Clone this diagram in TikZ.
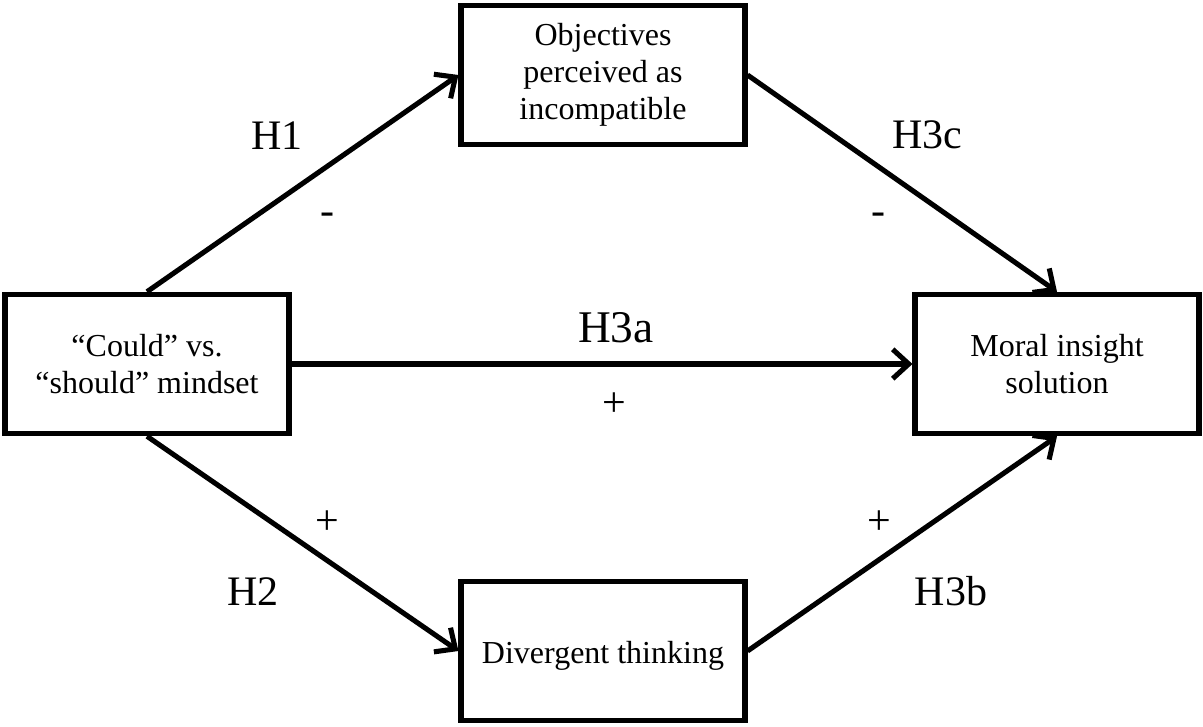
\documentclass[tikz,border=0pt]{standalone}
\usepackage{fontspec}
\setmainfont{Liberation Serif}
\usetikzlibrary{arrows.meta}

\begin{document}
\begin{tikzpicture}[x=0.75pt,y=-0.75pt,
        factor/.style={draw,line width=3.8pt,minimum width=213pt,minimum height=104.6pt,
            inner sep=0pt,align=center,font=\fontsize{24}{27.75}\selectfont},
        link/.style={line width=3.8pt,-{Straight Barb[length=12pt,width=22pt]}},
        hyp/.style={anchor=base,inner sep=0pt,font=\fontsize{31.5}{36}\selectfont}]
        \useasboundingbox (0,0) rectangle (1203,727);
        \node[factor] (mindset) at (147,364) {“Could” vs.\\“should” mindset};
        \node[factor] (incomp) at (603,75) {Objectives\\perceived as\\incompatible};
        \node[factor] (insight) at (1057,364) {Moral insight\\solution};
        \node[factor,text height=23pt,text depth=5pt] (diverg) at (603,651) {Divergent thinking};
        \draw[link] (mindset.north) -- (incomp.west);
        \draw[link] (incomp.east) -- (insight.north);
        \draw[link] (mindset.east) -- (insight.west);
        \draw[link] (mindset.south) -- (diverg.west);
        \draw[link] (diverg.east) -- (insight.south);
        \node[hyp] (h1) at (277,150) {H1};
        \node[hyp] (h1s) at (327,225) {-};
        \node[hyp] (h3c) at (927,149) {H3c};
        \node[hyp] (h3cs) at (878,225) {-};
        \node[hyp,font=\fontsize{34}{38}\selectfont] (h3a) at (616,342) {H3a};
        \node[hyp] (h3as) at (614,416) {+};
        \node[hyp] (h2) at (253,605) {H2};
        \node[hyp] (h2s) at (327,534) {+};
        \node[hyp] (h3b) at (951,605) {H3b};
        \node[hyp] (h3bs) at (879,534) {+};
    \end{tikzpicture}
\end{document}
